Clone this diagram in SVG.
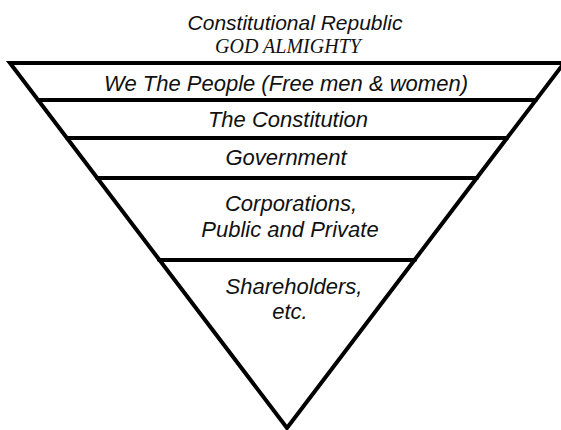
<svg xmlns="http://www.w3.org/2000/svg" width="561" height="430" viewBox="0 0 561 430">
<style>
.ln{stroke:#000;stroke-width:4;fill:none;stroke-linecap:round;stroke-linejoin:miter}
.t{font-family:"Liberation Sans",Arial,sans-serif;font-style:italic;fill:#111;text-anchor:middle;font-size:22px}
.s{font-family:"Liberation Serif","Times New Roman",serif;font-style:italic;fill:#111;text-anchor:middle}
</style>
<rect width="561" height="430" fill="#fff"/>
<g id="title">
<text class="t" x="295" y="30" style="font-size:21px">Constitutional Republic</text>
<text class="s" x="288" y="53" font-size="20">GOD ALMIGHTY</text>
</g>
<g id="connectors">
<polygon class="ln" points="10,63 564,63 287,428"/>
<line class="ln" x1="38" y1="100" x2="536" y2="100"/>
<line class="ln" x1="67" y1="138" x2="507" y2="138"/>
<line class="ln" x1="97" y1="178" x2="477" y2="178"/>
<line class="ln" x1="159" y1="260" x2="415" y2="260"/>
</g>
<g id="people"><text class="t" x="286" y="91">We The People (Free men &amp; women)</text></g>
<g id="constitution"><text class="t" x="288" y="127">The Constitution</text></g>
<g id="government"><text class="t" x="286" y="165">Government</text></g>
<g id="corporations"><text class="t" x="291" y="211">Corporations,</text><text class="t" x="290" y="237">Public and Private</text></g>
<g id="shareholders"><text class="t" x="294" y="294">Shareholders,</text><text class="t" x="290" y="319">etc.</text></g>
</svg>
